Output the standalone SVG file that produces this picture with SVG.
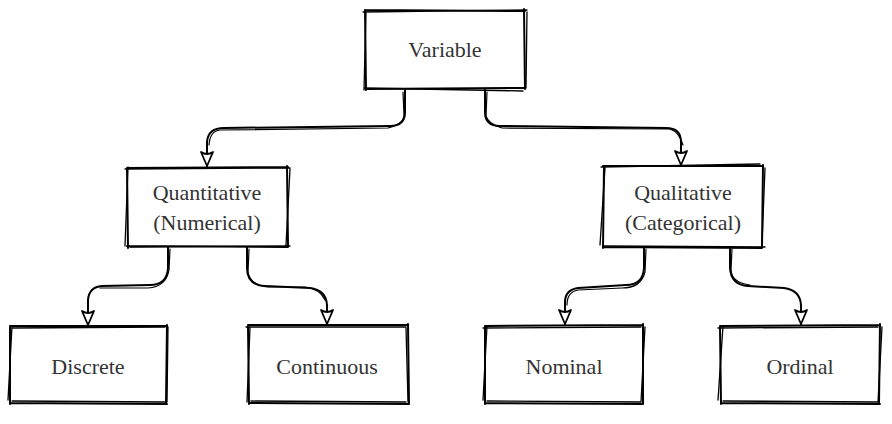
<svg xmlns="http://www.w3.org/2000/svg" width="892" height="424" viewBox="0 0 892 424">
<style>
.b{fill:none;stroke:#000;stroke-width:2;stroke-linecap:round;stroke-linejoin:round}
.b2{fill:none;stroke:#000;stroke-width:1.3;stroke-linecap:round}
.c{fill:none;stroke:#000;stroke-width:2;stroke-linecap:round;stroke-linejoin:round}
.c2{fill:none;stroke:#000;stroke-width:1.2;stroke-linecap:round}
.t{font-size:22px;fill:#333;text-anchor:middle}
</style>
<defs>
<marker id="ah" viewBox="0 0 16 14" refX="15" refY="7" markerWidth="16" markerHeight="14" markerUnits="userSpaceOnUse" orient="auto">
<path d="M1,1 L15,7 L1,13 Q5,7 1,1 Z" fill="#fff" stroke="#000" stroke-width="1.8" stroke-linejoin="round"/>
</marker>
</defs>
<rect width="892" height="424" fill="#fff"/>
<g id="connectors">
<path class="c" d="M405,90 L405,112 Q405,126 390,126 L224,128 Q208,128 207,142 L207,166" marker-end="url(#ah)"/>
<path class="c2" d="M403,92 L404,116 Q403,124 388,128 L220,130 Q210,131 209,145"/>
<path class="c" d="M485,90 L485,112 Q485,126 500,126 L666,128 Q681,128 681,142 L681,165" marker-end="url(#ah)"/>
<path class="c2" d="M487,92 L486,116 Q488,124 502,128 L670,129 Q679,132 683,145"/>
<path class="c" d="M168,247 L168,268 Q167,285 150,285 L102,286 Q89,287 88,300 L88,325" marker-end="url(#ah)"/>
<path class="c2" d="M170,249 L169,270 Q166,287 148,288 L100,288"/>
<path class="c" d="M247,247 L247,268 Q247,285 265,286 L310,288 Q326,290 327,305 L327,324" marker-end="url(#ah)"/>
<path class="c2" d="M249,249 L248,272 Q250,285 268,287 L305,287 Q320,289 325,300"/>
<path class="c" d="M644,247 L644,268 Q643,285 626,285 L578,288 Q565,290 565,302 L565,324" marker-end="url(#ah)"/>
<path class="c2" d="M646,249 L645,272 Q641,288 622,288 L578,290 Q567,292 567,305"/>
<path class="c" d="M730,247 L730,268 Q731,285 748,286 L784,288 Q800,290 801,305 L801,324" marker-end="url(#ah)"/>
<path class="c2" d="M732,249 L731,270 Q732,283 750,285"/>
</g>
<g font-family="Liberation Serif, Tinos, Times New Roman, DejaVu Serif, serif">
<g id="variable">
<path class="b" d="M365,10 L525,11 M524,9 L525,89 M525,88 L366,89 M366,90 L365,10"/>
<path class="b2" d="M363,12 L527,10 M527,12 L526,88 M523,91 L365,88 M364,90 L366,12"/>
<text class="t" x="445" y="57">Variable</text>
</g>
<g id="quantitative">
<path class="b" d="M127,168 L288,167 M287,166 L288,246 M288,247 L127,246 M128,248 L127,168"/>
<path class="b2" d="M125,169 L290,168 M290,169 L286,245 M290,246 L130,247 M125,246 L128,167"/>
<text class="t" x="207" y="200">Quantitative</text>
<text class="t" x="207" y="230">(Numerical)</text>
</g>
<g id="qualitative">
<path class="b" d="M603,166 L763,166 M763,165 L762,247 M762,248 L603,247 M603,248 L604,166"/>
<path class="b2" d="M601,167 L760,164 M765,168 L762,244 M765,247 L604,246 M600,245 L605,168"/>
<text class="t" x="683" y="200">Qualitative</text>
<text class="t" x="683" y="230">(Categorical)</text>
</g>
<g id="discrete">
<path class="b" d="M10,326 L167,326 M167,325 L166,404 M167,404 L10,403 M10,404 L10,327"/>
<path class="b2" d="M12,328 L165,327 M168,327 L167,402 M165,402 L12,401 M8,400 L12,326"/>
<text class="t" x="88" y="374">Discrete</text>
</g>
<g id="continuous">
<path class="b" d="M248,325 L408,325 M408,324 L409,404 M409,404 L249,403 M249,404 L248,326"/>
<path class="b2" d="M246,327 L406,327 M406,328 L408,402 M406,402 L251,401 M247,402 L250,327"/>
<text class="t" x="327" y="374">Continuous</text>
</g>
<g id="nominal">
<path class="b" d="M485,326 L643,325 M643,324 L643,404 M643,404 L485,403 M485,404 L485,327"/>
<path class="b2" d="M483,328 L641,327 M645,327 L641,402 M641,402 L487,401 M483,400 L487,326"/>
<text class="t" x="564" y="374">Nominal</text>
</g>
<g id="ordinal">
<path class="b" d="M720,326 L880,325 M880,324 L879,404 M880,404 L721,403 M721,404 L720,327"/>
<path class="b2" d="M718,328 L878,327 M882,327 L878,402 M878,402 L723,401 M718,400 L723,326"/>
<text class="t" x="800" y="374">Ordinal</text>
</g>
</g>
</svg>
